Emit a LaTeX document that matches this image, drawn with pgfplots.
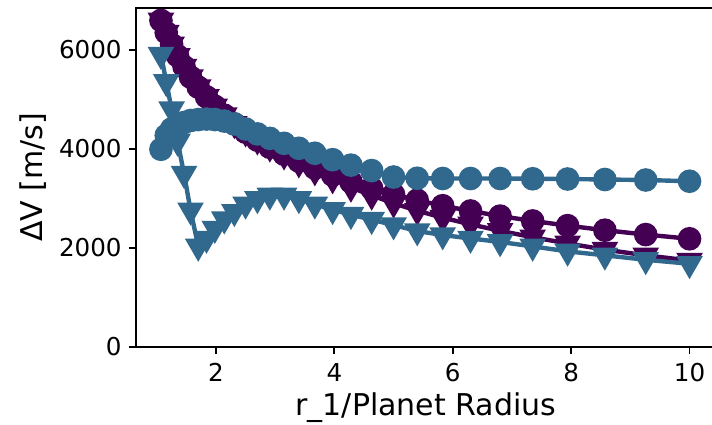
\documentclass[border=0pt]{standalone}
\usepackage{pgfplots}
\pgfplotsset{compat=1.18}
\usepackage{fontspec}
\setmainfont{DejaVu Sans}
\definecolor{purp}{RGB}{68,1,84}
\definecolor{blu}{RGB}{49,104,142}
\pgfplotstableread{
x purc purt bluc blut
1.07 6590 6590 3990 5900
1.16 6344 6344 4270 5350
1.25 6106 6106 4400 4800
1.35 5878 5878 4480 4150
1.46 5659 5659 4530 3500
1.57 5447 5447 4570 2760
1.70 5244 5244 4590 2030
1.84 5048 5048 4600 2190
1.98 4859 4859 4590 2390
2.14 4678 4678 4560 2580
2.31 4503 4503 4500 2730
2.50 4335 4335 4400 2880
2.70 4173 4173 4300 2990
2.91 4030 4030 4210 3060
3.15 3890 3870 4110 3060
3.40 3750 3710 4010 2990
3.67 3610 3550 3910 2880
3.97 3470 3390 3780 2770
4.28 3330 3220 3670 2670
4.63 3200 3060 3560 2570
5.00 3077 2900 3430 2460
5.40 2962 2750 3405 2340
5.83 2851 2610 3400 2260
6.30 2745 2475 3400 2190
6.80 2642 2345 3400 2120
7.35 2544 2215 3395 2030
7.94 2449 2090 3390 1930
8.57 2357 1965 3380 1850
9.26 2269 1850 3370 1760
10.00 2184 1745 3345 1680
}\datatab
\begin{document}
\begin{tikzpicture}
\begin{axis}[
  scale only axis,
  width=290.15pt, height=169.5pt,
  xmin=0.6436, xmax=10.447, ymin=0, ymax=6841,
  xtick={2,4,6,8,10}, ytick={0,2000,4000,6000},
  /pgf/number format/assume math mode=true,
  /pgf/number format/set thousands separator={},
  tick align=outside, major tick length=3.5pt,
  tick style={black, line width=0.9pt},
  xtick pos=bottom, ytick pos=left,
  axis line style={line width=0.9pt},
  ticklabel style={font=\fontsize{12.3}{14}\selectfont},
  xticklabel style={yshift=-1pt},
  label style={font=\fontsize{15}{18}\selectfont},
  xlabel={r\_1/Planet Radius},
  ylabel={ΔV [m/s]},
  xlabel style={at={(rel axis cs:0.5,0)}, anchor=base, yshift=-34pt},
  ylabel style={at={(rel axis cs:0,0.5)}, anchor=center, yshift=51.5pt},
  clip=false,
]
\coordinate (O) at (rel axis cs:0,0);
\addplot[purp, line width=2.2pt, mark=*, mark size=4.8pt, mark options={fill=purp, draw=purp}] table[x=x, y=purc] {\datatab};
\addplot[purp, line width=2.2pt, mark=triangle*, mark size=5.5pt, mark options={fill=purp, draw=purp, rotate=180}] table[x=x, y=purt] {\datatab};
\addplot[blu, line width=2.2pt, mark=*, mark size=4.8pt, mark options={fill=blu, draw=blu}] table[x=x, y=bluc] {\datatab};
\addplot[blu, line width=2.2pt, mark=triangle*, mark size=5.5pt, mark options={fill=blu, draw=blu, rotate=180}] table[x=x, y=blut] {\datatab};
\end{axis}
\pgfresetboundingbox
\path[use as bounding box] ([shift={(-67.85pt,-38.5pt)}]O) rectangle ([shift={(288.15pt,173.5pt)}]O);
\end{tikzpicture}
\end{document}
